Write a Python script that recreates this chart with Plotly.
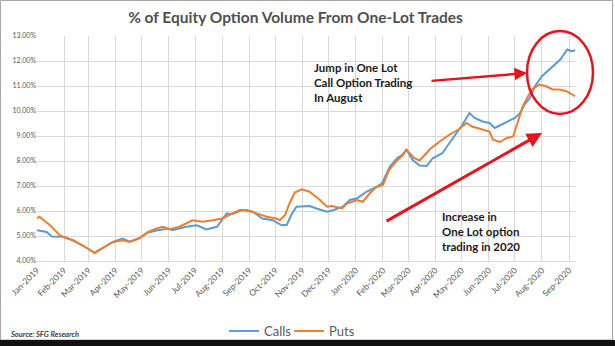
import plotly.graph_objects as go

# ---------------- data ----------------
calls_dates = ["2019-01-01","2019-01-07","2019-01-12","2019-01-18","2019-01-27","2019-01-31","2019-02-11","2019-02-22",
               "2019-03-06","2019-03-08","2019-03-17","2019-03-29","2019-04-09","2019-04-17","2019-04-28","2019-05-08",
               "2019-05-18","2019-05-31","2019-06-05","2019-06-21","2019-07-03","2019-07-14","2019-07-26","2019-08-06",
               "2019-08-13","2019-08-24","2019-09-05","2019-09-16","2019-09-28","2019-10-08","2019-10-14","2019-10-19",
               "2019-10-25","2019-11-01","2019-11-09","2019-11-17","2019-11-29","2019-12-05","2019-12-17","2019-12-25",
               "2020-01-02","2020-01-13","2020-01-24","2020-01-31","2020-02-09","2020-02-17","2020-02-23","2020-02-28",
               "2020-03-06","2020-03-14","2020-03-22","2020-03-29","2020-04-09","2020-04-17","2020-04-25","2020-05-02",
               "2020-05-10","2020-05-16","2020-05-25","2020-06-02","2020-06-08","2020-06-16","2020-06-23","2020-07-01",
               "2020-07-07","2020-07-12","2020-07-18","2020-07-24","2020-08-01","2020-08-07","2020-08-14","2020-08-22",
               "2020-08-30","2020-09-04","2020-09-08"]
calls_values = [5.23,5.20,5.16,4.98,4.96,4.97,4.83,4.63,
                4.38,4.34,4.51,4.76,4.90,4.77,4.91,5.14,
                5.22,5.30,5.23,5.37,5.43,5.26,5.37,5.90,
                5.88,6.04,5.97,5.70,5.63,5.43,5.45,5.84,
                6.17,6.17,6.20,6.10,5.97,6.02,6.17,6.44,
                6.50,6.77,6.95,7.11,7.78,8.11,8.25,8.45,
                8.04,7.82,7.80,8.11,8.31,8.71,9.12,9.45,
                9.92,9.72,9.58,9.52,9.32,9.45,9.58,9.72,
                9.92,10.25,10.52,10.99,11.39,11.59,11.79,12.06,
                12.46,12.39,12.43]

puts_dates = ["2019-01-01","2019-01-04","2019-01-09","2019-01-16","2019-01-27","2019-01-31","2019-02-11","2019-02-22",
              "2019-03-06","2019-03-08","2019-03-17","2019-03-29","2019-04-09","2019-04-17","2019-04-28","2019-05-08",
              "2019-05-18","2019-05-25","2019-06-02","2019-06-13","2019-06-28","2019-07-10","2019-07-21","2019-08-01",
              "2019-08-09","2019-08-21","2019-08-29","2019-09-09","2019-09-21","2019-10-02","2019-10-06","2019-10-12",
              "2019-10-17","2019-10-23","2019-10-31","2019-11-09","2019-11-21","2019-11-29","2019-12-05","2019-12-16",
              "2019-12-22","2020-01-02","2020-01-09","2020-01-17","2020-01-24","2020-02-01","2020-02-08","2020-02-16",
              "2020-02-24","2020-02-28","2020-03-03","2020-03-08","2020-03-14","2020-03-22","2020-03-26","2020-04-06",
              "2020-04-17","2020-04-27","2020-05-07","2020-05-13","2020-05-20","2020-05-28","2020-06-02","2020-06-06",
              "2020-06-14","2020-06-22","2020-06-29","2020-07-04","2020-07-10","2020-07-16","2020-07-21","2020-07-29",
              "2020-08-06","2020-08-13","2020-08-21","2020-08-29","2020-09-04","2020-09-08"]
puts_values = [5.70,5.77,5.62,5.43,5.03,4.96,4.83,4.63,
               4.36,4.31,4.51,4.76,4.83,4.76,4.91,5.16,
               5.30,5.37,5.27,5.37,5.63,5.57,5.63,5.70,
               5.84,6.04,6.04,5.90,5.77,5.70,5.63,5.84,
               6.30,6.74,6.87,6.77,6.44,6.17,6.20,6.10,
               6.30,6.44,6.37,6.71,6.95,7.04,7.64,7.98,
               8.25,8.45,8.31,8.11,8.02,8.31,8.48,8.78,
               9.05,9.25,9.52,9.38,9.32,9.25,9.18,8.85,
               8.76,8.92,8.98,9.52,10.18,10.59,10.86,11.06,
               10.99,10.86,10.86,10.79,10.65,10.59]

title_text = "% of Equity Option Volume From One-Lot Trades"
note_jump = "Jump in One Lot<br>Call Option Trading<br>In August"
note_increase = "Increase in<br>One Lot option<br>trading in 2020"
source_text = "Source: SFG Research"

# ---------------- layout geometry (pixels) ----------------
W, H = 615, 346
L, R, T, B = 37, 39, 36, 85
PW, PH = W - L - R, H - T - B


def px(x):
    return (x - L) / PW


def py(y):
    return (H - B - y) / PH


BLUE = "#5B9BD5"
ORANGE = "#ED7D31"
RED = "#E3141B"
GRID = "#D9D9D9"
TXT = "#595959"
FONT = "Lato, Carlito, Liberation Sans, sans-serif"

fig = go.Figure()
fig.add_trace(go.Scatter(x=calls_dates, y=calls_values, name="Calls", mode="lines",
                         line=dict(color=BLUE, width=2)))
fig.add_trace(go.Scatter(x=puts_dates, y=puts_values, name="Puts", mode="lines",
                         line=dict(color=ORANGE, width=2)))

fig.update_layout(
    width=W, height=H,
    margin=dict(l=L, r=R, t=T, b=B, pad=0, autoexpand=False),
    paper_bgcolor="white", plot_bgcolor="white",
    font=dict(family=FONT, color=TXT),
    title=dict(text="<b>" + title_text + "</b>", x=px(296), xanchor="center",
               y=1 - 18 / H, yanchor="middle", font=dict(size=15.5, color="#505050", family=FONT)),
    showlegend=True,
    legend=dict(orientation="h", x=px(289), xanchor="center", y=py(331), yanchor="middle",
                font=dict(size=13, color=TXT, family=FONT), bgcolor="rgba(0,0,0,0)",
                itemwidth=30, tracegroupgap=0, entrywidth=20, entrywidthmode="pixels"),
    xaxis=dict(type="date", range=["2019-01-01", "2020-09-09"],
               tick0="2019-01-01", dtick="M1", tickformat="%b-%Y", tickangle=-45,
               showgrid=True, gridcolor=GRID, gridwidth=1,
               showline=True, linecolor=GRID, linewidth=1, ticks="",
               tickfont=dict(size=8.5, color=TXT, family=FONT), zeroline=False),
    yaxis=dict(range=[4, 13], dtick=1, tickformat=".2f", ticksuffix="%",
               showgrid=True, gridcolor=GRID, gridwidth=1, showline=False, ticks="",
               tickfont=dict(size=7, color=TXT, family=FONT), zeroline=False),
)

shapes = []
# outer frame and dark bottom band
shapes.append(dict(type="rect", xref="paper", yref="paper", x0=px(0.5), x1=px(612.5), y0=py(340), y1=py(0.5),
                   line=dict(color="#A6A6A6", width=1), fillcolor="rgba(0,0,0,0)", layer="below"))
shapes.append(dict(type="rect", xref="paper", yref="paper", x0=px(0), x1=px(615), y0=py(346), y1=py(340),
                   line=dict(width=0), fillcolor="#111111"))
# red ellipse
shapes.append(dict(type="circle", xref="paper", yref="paper", x0=px(527), x1=px(593), y0=py(114), y1=py(31),
                   line=dict(color=RED, width=2.5), fillcolor="rgba(0,0,0,0)"))
fig.update_layout(shapes=shapes)

ann_font = dict(size=11.5, color="#1A1A1A", family=FONT)
fig.add_annotation(xref="paper", yref="paper", x=px(312), y=py(59), xanchor="left", yanchor="top",
                   text="<b>" + note_jump + "</b>", showarrow=False, align="left", font=ann_font)
fig.add_annotation(xref="paper", yref="paper", x=px(440), y=py(208), xanchor="left", yanchor="top",
                   text="<b>" + note_increase + "</b>", showarrow=False, align="left", font=ann_font)
# arrows
fig.add_annotation(xref="paper", yref="paper", x=px(527), y=py(73), ax=-97, ay=8, text="",
                   showarrow=True, arrowhead=2, arrowsize=1, arrowwidth=2.5, arrowcolor=RED)
fig.add_annotation(xref="paper", yref="paper", x=px(542), y=py(133), ax=-157, ay=89, text="",
                   showarrow=True, arrowhead=2, arrowsize=1, arrowwidth=3, arrowcolor=RED)
# source
fig.add_annotation(xref="paper", yref="paper", x=px(8), y=py(334), xanchor="left", yanchor="middle",
                   text="<b><i>" + source_text + "</i></b>", showarrow=False,
                   font=dict(size=7.5, color="#404040", family=FONT))

fig.write_html("out.html", config={"displayModeBar": False})
